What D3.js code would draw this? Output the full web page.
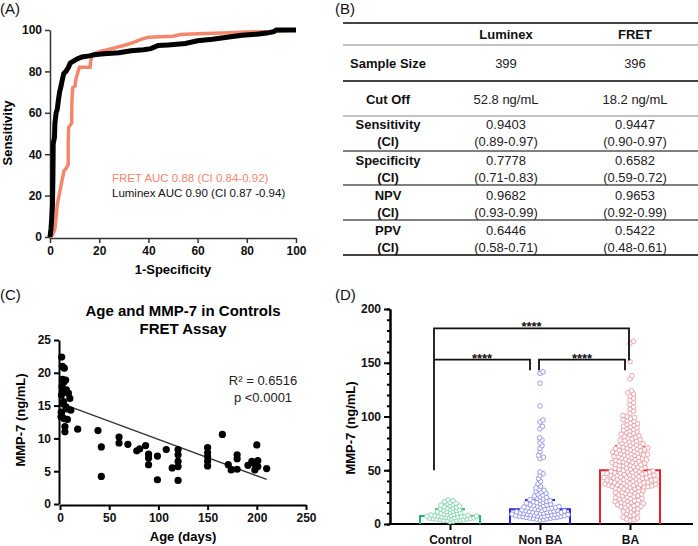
<!DOCTYPE html>
<html>
<head>
<meta charset="utf-8">
<script src="https://cdn.jsdelivr.net/npm/d3@7"></script>
<style>
  body { margin: 0; background: #fff; }
  svg { font-family: "Liberation Sans", Arial, sans-serif; }
</style>
</head>
<body>
<svg id="fig" width="698" height="546"></svg>
<script>
// ---- data ----

// (A) ROC curves
const lumFpr = [0, 0.4, 0.7, 1.0, 1.2, 1.3, 1.8, 2.0, 2.5, 3.0, 3.4, 3.9, 4.5, 5.0, 5.6, 6.5, 7.5, 8.2, 9.5, 11, 13, 16, 18, 22, 28, 33, 38, 41, 44, 48, 55, 60, 66, 72, 78, 84, 88, 91, 92, 100];
const lumTpr = [0, 4, 9, 15, 30, 45, 48, 55, 60, 62, 66, 70, 73, 76, 79, 80, 82, 84, 85, 86, 87, 87.5, 88, 88.5, 89, 90, 90.5, 91, 92.5, 92.8, 93.5, 94.8, 95.5, 96.5, 97.5, 98, 98.5, 99.2, 100, 100];
const fretFpr = [0, 1, 2, 2.5, 3, 3.5, 4, 4.5, 5, 5.7, 6.5, 7.4, 7.4, 7.6, 8.8, 8.9, 9.2, 10.2, 10.5, 11.4, 12, 16.3, 16.5, 17, 18, 20, 25, 30, 34, 37, 40, 50, 53, 60, 70, 80, 90, 100];
const fretTpr = [0, 1, 4, 10, 16, 19, 22, 25, 28, 32, 33, 35, 45, 53, 55, 65, 72, 73, 76, 80, 82, 82, 85, 87, 88.5, 89.5, 91, 92.5, 94, 95.5, 96.5, 97, 97.8, 98.2, 98.6, 99, 99.3, 100];
const rocTicks = [0, 20, 40, 60, 80, 100];
const rocLegend = ["FRET AUC 0.88 (CI 0.84-0.92)", "Luminex AUC 0.90 (CI 0.87 -0.94)"];

// (B) table
const tableHeader = ["", "Luminex", "FRET"];
const rowLabels = [["Sample Size"], ["Cut Off"], ["Sensitivity", "(CI)"], ["Specificity", "(CI)"], ["NPV", "(CI)"], ["PPV", "(CI)"]];
const luminexVals = [["399"], ["52.8 ng/mL"], ["0.9403", "(0.89-0.97)"], ["0.7778", "(0.71-0.83)"], ["0.9682", "(0.93-0.99)"], ["0.6446", "(0.58-0.71)"]];
const fretVals = [["396"], ["18.2 ng/mL"], ["0.9447", "(0.90-0.97)"], ["0.6582", "(0.59-0.72)"], ["0.9653", "(0.92-0.99)"], ["0.5422", "(0.48-0.61)"]];

// (C) age vs MMP-7 in controls
const ageC = [1.7, 2.4, 4.4, 2.7, 5.8, 2.0, 6.5, 8.5, 10, 1.5, 3.0, 1.2, 6.0, 11, 1.0, 4.2, 7.5, 5.0, 5.0, 3.5, 1.5, 7.0, 2.5, 4.0, 18, 38.6, 42, 42, 60, 60, 69, 78, 81, 87, 90, 90, 90, 99, 99, 108, 114, 120, 120, 120, 120, 120, 150, 150, 150, 150, 150, 165, 171, 174, 180, 180, 180, 191, 195, 200, 201, 198, 201, 210, 197];
const mmpC = [22.4, 21, 20.7, 19, 18.9, 17.9, 17.4, 16.9, 16.1, 16.6, 15.3, 14, 14.8, 14.3, 13.3, 13, 12.9, 11.8, 11, 15.6, 13.8, 14.5, 17.2, 18.6, 11.4, 11.2, 8.7, 4.2, 10.2, 9.3, 9.1, 8.1, 8.4, 8.9, 7.6, 7, 6, 7.3, 3.7, 8.3, 5.5, 8.3, 7.5, 6.5, 5.7, 3.6, 8.6, 7.8, 7.2, 6.5, 5.8, 10.6, 6, 5.2, 7.5, 6.9, 5.3, 5.9, 6.5, 9, 6.6, 5.2, 5.7, 5.4, 6.2];
const regSlope = -0.0555, regIntercept = 15.4, regAge = [1, 210];
const fitText = ["R\u00B2 = 0.6516", "p <0.0001"];

// (D) MMP-7 by group
const groups = ["Control", "Non BA", "BA"];
const controlVals = [2.2, 2.6, 3.1, 3.3, 3.4, 3.8, 4.0, 4.1, 4.5, 4.7, 4.9, 5.0, 5.2, 5.5, 5.6, 5.9, 6.0, 6.2, 6.4, 6.7, 6.9, 7.0, 7.2, 7.3, 7.4, 7.7, 7.9, 8.1, 8.4, 8.6, 9.0, 9.3, 9.6, 10.1, 10.4, 10.9, 11.3, 11.6, 12.1, 12.5, 12.9, 13.4, 13.8, 14.1, 14.6, 15.0, 15.4, 16.0, 16.6, 17.1, 17.5, 18.2, 18.8, 19.3, 20.1, 20.8, 21.6, 22.4];
const nonBaVals = [3.6, 4.1, 4.4, 4.9, 5.1, 5.4, 5.6, 5.9, 6.1, 6.3, 6.6, 6.8, 6.9, 7.1, 7.3, 7.5, 7.7, 7.9, 8.0, 8.2, 8.4, 8.6, 8.7, 8.9, 9.1, 9.2, 9.4, 9.7, 9.9, 10.1, 10.3, 10.5, 10.7, 10.9, 11.1, 11.3, 11.5, 11.7, 11.9, 12.1, 12.4, 12.6, 12.8, 13.1, 13.4, 13.6, 13.9, 14.2, 14.4, 14.7, 15.0, 15.3, 15.6, 15.9, 16.3, 16.6, 17.0, 17.3, 17.7, 18.1, 18.5, 18.9, 19.3, 19.8, 20.2, 20.7, 21.1, 21.6, 22.1, 22.7, 23.3, 23.9, 24.6, 25.3, 26.1, 26.9, 27.8, 28.7, 29.6, 30.5, 31.4, 32.3, 33.6, 35.2, 37.4, 39.6, 42.3, 45.1, 46.8, 48.4, 60.9, 62.1, 63.8, 67.2, 70.3, 72.8, 75.4, 78.1, 80.2, 88.5, 90.8, 94.9, 96.7, 109.8, 131.0, 140.2, 141.6];
const baVals = [170, 168, 151, 138, 135, 124, 122, 121, 119, 117, 115, 113, 111, 109, 107, 105, 103, 101, 100, 99, 98, 97, 96, 95.5, 94, 93.5, 92.5, 92, 91, 90.5, 89.5, 89, 88, 87.5, 86.5, 86, 85, 84.5, 83.5, 83, 82, 81.5, 80.5, 80, 79, 78.5, 78, 77.5, 77, 76.5, 75.5, 75, 74.5, 74, 73.5, 73, 72.6,
  72.2, 71.6, 71.3, 70.8, 70.6, 70.1, 69.7, 69.2, 69, 68.7, 68.1, 67.9, 67.3, 67, 66.8, 66.1, 65.9, 65.4, 65.2, 64.8, 64.2, 63.9, 63.7, 63.1, 62.8, 62.5, 62.1, 61.6, 61.2, 60.9, 60.4, 60.2, 59.6, 59.3, 59, 58.5, 58.1, 57.8, 57.5, 57, 56.7, 56.1, 55.9, 55.4, 55.1, 54.7, 54.2, 53.9, 53.3, 53, 52.7, 52.1, 51.8, 51.5, 51, 50.7, 50.2,
  49.8, 49.4, 49.1, 48.9, 48.7, 48.2, 48, 47.7, 47.5, 47.1, 46.9, 46.6, 46.4, 46.2, 45.8, 45.5, 45.3, 45.1, 44.7, 44.4, 44.2, 43.8, 43.6, 43.3, 43.1, 42.9, 42.5, 42.2, 42, 41.6, 41.4, 41.1, 40.9, 40.7, 40.3, 40, 39.8, 39.6, 39.2, 38.9, 38.7, 38.3, 38.1, 37.8, 37.6, 37.4, 37, 36.8, 36.4, 36.2, 35.9, 35.6, 35.4, 35.2, 34.9, 34.7, 34.5,
  34.1, 33.8, 33.2, 32.9, 32.5, 32, 31.4, 31.1, 30.7, 30.2, 29.6, 29.3, 28.9, 28.3, 27.9, 27.5, 27, 26.4, 26.1, 25.5, 25.1, 24.7, 24.1, 23.6, 23.2, 22.8, 22.1, 21.7, 21.4, 20.8, 20.2, 19.9, 19.3, 18.9, 18.4, 18, 17.6, 16.9, 16.5, 16.1, 15.4, 14.9, 14.1, 13.4, 12.8, 11.9, 11.1, 10.5, 9.4, 8.5, 7.7, 6.4, 5.6, 4.5, 3.9, 3.1];
const groupVals = [controlVals, nonBaVals, baVals];
const medians = [7.4, 13.7, 50];
const q1s = [4.3, 8.3, 34.5];
const q3s = [13.7, 22.3, 72.5];
const sigStars = ["****", "****", "****"];

// ---- drawing ----
const svg = d3.select('#fig');
svg.append('rect').attr('width', 698).attr('height', 546).attr('fill', '#fff');

function styleAxis(g, size, color, width) {
  g.selectAll('path, line').attr('stroke', color).attr('stroke-width', width);
  g.selectAll('text').attr('font-size', size).attr('font-weight', 'bold')
    .attr('fill', '#111').attr('font-family', '"Liberation Sans", Arial, sans-serif');
}

function panelLabel(txt, x, y) {
  svg.append('text').attr('x', x).attr('y', y).attr('font-size', 15).attr('fill', '#111').text(txt);
}

/******************** (A) ROC ********************/
panelLabel('(A)', 0, 14);
const xA = d3.scaleLinear([0, 100], [50, 296]);
const yA = d3.scaleLinear([0, 100], [237, 30]);

svg.append('g').attr('transform', 'translate(0,238)')
  .call(d3.axisBottom(xA).tickValues(rocTicks).tickSize(5).tickSizeOuter(0).tickPadding(3))
  .call(g => styleAxis(g, 12, '#333', 1.5));
svg.append('g').attr('transform', 'translate(50,0)')
  .call(d3.axisLeft(yA).tickValues(rocTicks).tickSize(5).tickSizeOuter(0).tickPadding(3))
  .call(g => styleAxis(g, 12, '#333', 1.5));

svg.append('text').attr('x', 173).attr('y', 274).attr('text-anchor', 'middle')
  .attr('font-size', 13).attr('font-weight', 'bold').text('1-Specificity');
svg.append('text').attr('transform', 'translate(12,133) rotate(-90)').attr('text-anchor', 'middle')
  .attr('font-size', 13).attr('font-weight', 'bold').text('Sensitivity');

const lineA = d3.line().x(d => xA(d[0])).y(d => yA(d[1]));
svg.append('path').datum(fretFpr.map((f, i) => [f, fretTpr[i]]))
  .attr('d', lineA).attr('fill', 'none').attr('stroke', '#f3876b').attr('stroke-width', 3.5);
svg.append('path').datum(lumFpr.map((f, i) => [f, lumTpr[i]]))
  .attr('d', lineA).attr('fill', 'none').attr('stroke', '#000').attr('stroke-width', 5);

svg.append('text').attr('x', 112).attr('y', 182).attr('font-size', 11.5).attr('fill', '#f3876b').text(rocLegend[0]);
svg.append('text').attr('x', 112).attr('y', 196.5).attr('font-size', 11.5).attr('fill', '#111').text(rocLegend[1]);

/******************** (B) table ********************/
panelLabel('(B)', 335, 14);
const colX = [388, 506, 635];
const ruleY = [23, 45, 81, 116, 151, 185, 220, 255];
const ruleW = [2, 1, 2, 1, 1.5, 1.5, 1.5, 2];
const ruleC = ['#444', '#888', '#444', '#888', '#555', '#555', '#555', '#444'];
ruleY.forEach((y, i) => {
  svg.append('line').attr('x1', 343).attr('x2', 698).attr('y1', y).attr('y2', y)
    .attr('stroke', ruleC[i]).attr('stroke-width', ruleW[i]);
});
tableHeader.forEach((h, i) => {
  svg.append('text').attr('x', colX[i]).attr('y', 39).attr('text-anchor', 'middle')
    .attr('font-size', 13).attr('font-weight', 'bold').attr('fill', '#111').text(h);
});
const rowCenters = [[63], [99], [124, 141], [160, 177], [195, 212], [230, 247]];
rowLabels.forEach((lines, r) => {
  lines.forEach((t, k) => {
    const y = rowCenters[r][k] + 4.5;
    svg.append('text').attr('x', colX[0]).attr('y', y).attr('text-anchor', 'middle')
      .attr('font-size', 13).attr('font-weight', 'bold').attr('fill', '#111').text(t);
    svg.append('text').attr('x', colX[1]).attr('y', y).attr('text-anchor', 'middle')
      .attr('font-size', 13).attr('fill', '#222').text(luminexVals[r][k]);
    svg.append('text').attr('x', colX[2]).attr('y', y).attr('text-anchor', 'middle')
      .attr('font-size', 13).attr('fill', '#222').text(fretVals[r][k]);
  });
});

/******************** (C) scatter ********************/
panelLabel('(C)', 0, 300);
const xC = d3.scaleLinear([0, 250], [60, 306]);
const yC = d3.scaleLinear([0, 25], [504, 340]);

svg.append('g').attr('transform', 'translate(0,505)')
  .call(d3.axisBottom(xC).tickValues([0, 50, 100, 150, 200, 250]).tickSize(5).tickSizeOuter(0).tickPadding(3))
  .call(g => styleAxis(g, 12, '#000', 2));
svg.append('g').attr('transform', 'translate(59,0)')
  .call(d3.axisLeft(yC).tickValues([0, 5, 10, 15, 20, 25]).tickSize(5).tickSizeOuter(0).tickPadding(3))
  .call(g => styleAxis(g, 12, '#000', 2));

svg.append('text').attr('x', 183).attr('y', 316).attr('text-anchor', 'middle')
  .attr('font-size', 15).attr('font-weight', 'bold').text('Age and MMP-7 in Controls');
svg.append('text').attr('x', 183).attr('y', 334).attr('text-anchor', 'middle')
  .attr('font-size', 15).attr('font-weight', 'bold').text('FRET Assay');
svg.append('text').attr('x', 183).attr('y', 541).attr('text-anchor', 'middle')
  .attr('font-size', 13).attr('font-weight', 'bold').text('Age (days)');
svg.append('text').attr('transform', 'translate(25,420) rotate(-90)').attr('text-anchor', 'middle')
  .attr('font-size', 13).attr('font-weight', 'bold').text('MMP-7 (ng/mL)');

svg.append('line')
  .attr('x1', xC(regAge[0])).attr('y1', yC(regIntercept + regSlope * regAge[0]))
  .attr('x2', xC(regAge[1])).attr('y2', yC(regIntercept + regSlope * regAge[1]))
  .attr('stroke', '#333').attr('stroke-width', 1.2);

svg.append('g').selectAll('circle').data(ageC).join('circle')
  .attr('cx', d => xC(d)).attr('cy', (d, i) => yC(mmpC[i])).attr('r', 3.6).attr('fill', '#000');

svg.append('text').attr('x', 263).attr('y', 384.5).attr('text-anchor', 'middle')
  .attr('font-size', 13).attr('fill', '#222').text(fitText[0]);
svg.append('text').attr('x', 263).attr('y', 401.5).attr('text-anchor', 'middle')
  .attr('font-size', 13).attr('fill', '#222').text(fitText[1]);

/******************** (D) dot plot ********************/
panelLabel('(D)', 335, 300);
const xD = d3.scalePoint(groups, [450, 630]);
const yD = d3.scaleLinear([0, 200], [524, 309]);

svg.append('g').attr('transform', 'translate(390,0)')
  .call(d3.axisLeft(yD).tickValues(d3.range(0, 201, 10)).tickSize(3).tickFormat('').tickSizeOuter(0))
  .call(g => styleAxis(g, 12, '#000', 2));
svg.append('g').attr('transform', 'translate(390,0)')
  .call(d3.axisLeft(yD).tickValues([0, 50, 100, 150, 200]).tickSize(6).tickSizeOuter(0).tickPadding(3))
  .call(g => styleAxis(g, 12, '#000', 2));
svg.append('line').attr('x1', 389).attr('x2', 693).attr('y1', yD(0)).attr('y2', yD(0))
  .attr('stroke', '#000').attr('stroke-width', 2);
svg.append('g').attr('transform', `translate(0,${yD(0)})`)
  .call(d3.axisBottom(xD).tickSize(6).tickSizeOuter(0).tickPadding(5))
  .call(g => { g.select('.domain').remove(); styleAxis(g, 12, '#000', 2); });

svg.append('text').attr('transform', 'translate(355,428) rotate(-90)').attr('text-anchor', 'middle')
  .attr('font-size', 13).attr('font-weight', 'bold').text('MMP-7 (ng/mL)');

const barCol = ['#1fb56c', '#2525ee', '#ee2026'];
const dotCol = ['#7fd4aa', '#9090e6', '#eb9ba4'];
const barW = 60, capW = 30;

groups.forEach((g, i) => {
  const cx = xD(g);
  const gg = svg.append('g');
  gg.append('path')
    .attr('d', `M${cx - barW / 2},${yD(0)}V${yD(medians[i])}H${cx + barW / 2}V${yD(0)}`)
    .attr('fill', 'none').attr('stroke', barCol[i]).attr('stroke-width', 2);
  gg.append('line').attr('x1', cx).attr('x2', cx).attr('y1', yD(q1s[i])).attr('y2', yD(q3s[i]))
    .attr('stroke', barCol[i]).attr('stroke-width', 2);
  [q1s[i], q3s[i]].forEach(q => {
    gg.append('line').attr('x1', cx - capW / 2).attr('x2', cx + capW / 2).attr('y1', yD(q)).attr('y2', yD(q))
      .attr('stroke', barCol[i]).attr('stroke-width', 2);
  });
});

// simple beeswarm placement of the points (dist = minimum centre distance)
function swarm(vals, dist) {
  const placed = [];
  vals.slice().sort((a, b) => a - b).forEach(v => {
    const py = yD(v);
    let dx = null;
    for (let k = 0; dx === null; k++) {
      const cands = k === 0 ? [0] : [k * 0.5, -k * 0.5];
      for (const c of cands) {
        if (placed.every(p => (p.x - c) ** 2 + (p.y - py) ** 2 >= dist * dist)) { dx = c; break; }
      }
    }
    placed.push({ x: dx, y: py });
  });
  return placed;
}

const swarmDist = [3.1, 3.3, 3.7];
groups.forEach((g, i) => {
  const pts = swarm(groupVals[i], swarmDist[i]);
  svg.append('g').selectAll('circle').data(pts).join('circle')
    .attr('cx', d => xD(g) + d.x).attr('cy', d => d.y).attr('r', 2.3)
    .attr('fill', '#fff').attr('stroke', dotCol[i]).attr('stroke-width', 0.9);
});

// significance brackets
const bk = svg.append('g').attr('fill', 'none').attr('stroke', '#111').attr('stroke-width', 1.8);
const cC = xD('Control'), cN = xD('Non BA'), cB = xD('BA');
bk.append('path').attr('d', `M${cC - 16},${yD(50)}V${yD(182)}H${cB - 1}V${yD(152)}`);
bk.append('path').attr('d', `M${cC - 16},${yD(153)}H${cN - 10}V${yD(143)}`);
bk.append('path').attr('d', `M${cN - 1},${yD(143)}V${yD(153)}H${cB - 5}V${yD(143)}`);
const starX = [(cC - 16 + cB - 1) / 2, (cC - 16 + cN - 10) / 2, (cN - 1 + cB - 5) / 2];
const starY = [yD(182) - 3, yD(153) - 3, yD(153) - 3];
sigStars.forEach((s, i) => {
  svg.append('text').attr('x', starX[i]).attr('y', starY[i] + 6).attr('text-anchor', 'middle')
    .attr('font-size', 13).attr('font-weight', 'bold').attr('fill', '#111').text(s);
});
</script>
</body>
</html>
